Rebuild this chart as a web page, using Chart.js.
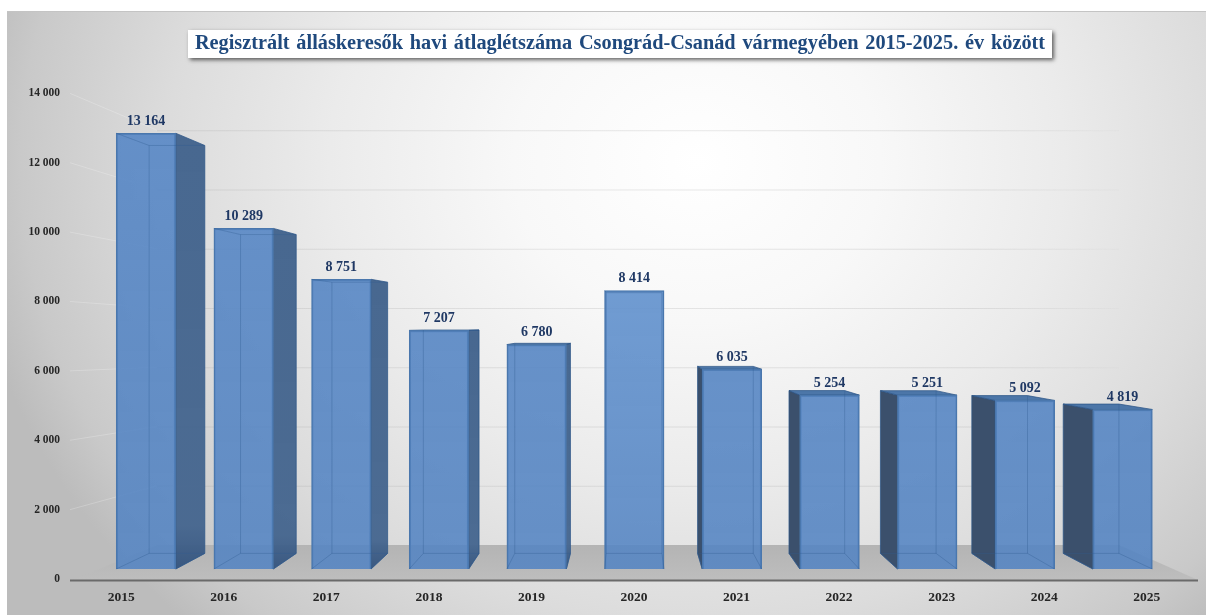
<!DOCTYPE html>
<html lang="hu">
<head>
<meta charset="utf-8">
<title>Regisztrált álláskeresők</title>
<style>
html,body{margin:0;padding:0;background:#fff;width:1206px;height:615px;overflow:hidden}
#bg{position:absolute;left:7px;top:11px;width:1199px;height:604px;border-top:1px solid #c4c4c4;box-sizing:border-box;
background:radial-gradient(ellipse 735px 640px at 690px 150px,#ffffff 0%,#f8f8f8 25%,#ebebeb 50%,#dcdcdc 72%,#c9c9c9 92%,#bcbcbc 100%)}
canvas{position:absolute;left:0;top:0}
</style>
<script src="https://cdn.jsdelivr.net/npm/chart.js@4/dist/chart.umd.js"></script>
</head>
<body>
<div id="bg"></div>
<canvas id="c" width="1206" height="615"></canvas>
<script>
const categories = ['2015','2016','2017','2018','2019','2020','2021','2022','2023','2024','2025'];
const jobseekers = [13164,10289,8751,7207,6780,8414,6035,5254,5251,5092,4819];
const yTicks = [0,2000,4000,6000,8000,10000,12000,14000];
const chartTitle = 'Regisztrált álláskeresők havi átlaglétszáma Csongrád-Csanád vármegyében 2015-2025. év között';

const fmt = v => String(v).replace(/\B(?=(\d{3})+$)/g,' ');
const SERIF = '"Liberation Serif","Times New Roman",serif';
// perspective of the 3D look
const VP = {x:630,y:325}, DEPTH = 0.064;
const back = (x,y)=>[x+(VP.x-x)*DEPTH, y+(VP.y-y)*DEPTH];
const poly = (ctx,pts,fill)=>{ctx.beginPath();pts.forEach((p,i)=>i?ctx.lineTo(p[0],p[1]):ctx.moveTo(p[0],p[1]));ctx.closePath();if(fill){ctx.fillStyle=fill;ctx.fill();}};

const scene = {
  id:'scene',
  afterLayout(chart){
    const tb=chart.titleBlock;
    tb.left += 21; tb.right += 21;
    if(!tb._patched){
      const d=tb.draw;
      tb.draw=function(){const c=this.ctx;c.save();c.wordSpacing='1.75px';d.call(this);c.restore();};
      tb._patched=true;
    }
  },
  beforeDraw(chart){
    const {ctx}=chart, cx=620, cy=44, w=864, h=28;
    ctx.save();
    ctx.shadowColor='rgba(0,0,0,.6)';ctx.shadowBlur=4;ctx.shadowOffsetX=2;ctx.shadowOffsetY=2;
    ctx.fillStyle='#fff';ctx.fillRect(cx-w/2,cy-h/2,w,h);
    ctx.restore();
  },
  beforeDatasetsDraw(chart){
    const {ctx,chartArea:a,scales:s}=chart;
    const yF=s.y.getPixelForValue(0), yB=s.yWall.getPixelForValue(0);
    const xBL=a.left+87, xBR=a.right-79;
    ctx.save();
    // wall and side gridlines
    yTicks.slice(1).forEach(v=>{
      const py=s.y.getPixelForValue(v), wy=s.yWall.getPixelForValue(v);
      ctx.strokeStyle='rgba(255,255,255,.22)';ctx.lineWidth=1;
      ctx.beginPath();ctx.moveTo(a.left,py);ctx.lineTo(xBL,wy);ctx.stroke();
      const g=ctx.createLinearGradient(xBL,0,xBR,0);
      g.addColorStop(0,'rgba(150,150,150,.2)');g.addColorStop(.85,'rgba(150,150,150,.22)');g.addColorStop(1,'rgba(150,150,150,.04)');
      ctx.strokeStyle=g;
      ctx.beginPath();ctx.moveTo(xBL,wy+.5);ctx.lineTo(xBR,wy+.5);ctx.stroke();
    });
    // floor
    const fg=ctx.createLinearGradient(0,yB,0,yF);
    fg.addColorStop(0,'#b4b4b4');fg.addColorStop(1,'#bdbdbd');
    poly(ctx,[[a.left+3,yF+1],[a.right,yF+1],[xBR,yB],[xBL,yB]],fg);
    // front edge of the floor (axis line)
    ctx.strokeStyle='#6a6a6a';ctx.lineWidth=2;
    ctx.beginPath();ctx.moveTo(a.left,yF+1.5);ctx.lineTo(a.right,yF+1.5);ctx.stroke();
    // back and side faces
    chart.getDatasetMeta(0).data.forEach(b=>{
      const l=b.x-b.width/2,r=b.x+b.width/2,t=b.y,bt=b.base;
      const BLt=back(l,t),BRt=back(r,t),BLb=back(l,bt),BRb=back(r,bt);
      ctx.strokeStyle='rgba(45,85,135,.75)';ctx.lineWidth=1;
      if(BRt[0]>r){
        const g=ctx.createLinearGradient(0,t,0,bt);g.addColorStop(0,'rgba(72,104,144,1)');g.addColorStop(.9,'rgba(72,104,144,.98)');g.addColorStop(1,'rgba(58,88,128,1)');
        poly(ctx,[[r,t],BRt,BRb,[r,bt]],g);ctx.stroke();
      }
      if(BLt[0]<l){
        poly(ctx,[[l,t],BLt,BLb,[l,bt]],'#3b506c');ctx.stroke();
      }
      if(BLt[1]<t){
        poly(ctx,[[l,t],BLt,BRt,[r,t]],'#4c76a8');ctx.stroke();
      }
    });
    ctx.restore();
  },
  afterDatasetsDraw(chart){
    const {ctx}=chart;
    ctx.save();
    chart.getDatasetMeta(0).data.forEach((b,i)=>{
      const l=b.x-b.width/2,r=b.x+b.width/2,t=b.y,bt=b.base;
      const BLt=back(l,t),BRt=back(r,t),BLb=back(l,bt),BRb=back(r,bt);
      // inner edges seen through the translucent front
      ctx.strokeStyle='rgba(48,90,145,.34)';ctx.lineWidth=1;
      ctx.beginPath();
      if(BLt[0]>l){ctx.moveTo(BLt[0],BLt[1]);ctx.lineTo(BLb[0],BLb[1]);}
      if(BRt[0]<r){ctx.moveTo(BRt[0],BRt[1]);ctx.lineTo(BRb[0],BRb[1]);}
      ctx.moveTo(BLb[0],BLb[1]);ctx.lineTo(BRb[0],BRb[1]);
      ctx.moveTo(l,bt);ctx.lineTo(BLb[0],BLb[1]);
      ctx.moveTo(r,bt);ctx.lineTo(BRb[0],BRb[1]);
      if(BLt[1]>t){
        ctx.moveTo(BLt[0],BLt[1]);ctx.lineTo(BRt[0],BRt[1]);
        ctx.moveTo(l,t);ctx.lineTo(BLt[0],BLt[1]);
      }
      ctx.stroke();
      // value label
      ctx.fillStyle='#1f3864';ctx.font='bold 14px '+SERIF;ctx.textAlign='center';ctx.textBaseline='middle';
      ctx.fillText(fmt(jobseekers[i]),b.x,t-12);
    });
    ctx.restore();
  }
};

const barColor = c => {
  const {chart,dataIndex}=c, a=chart.chartArea;
  if(!a) return '#6590c6';
  const el=chart.getDatasetMeta(0).data[dataIndex];
  const top=el&&el.y!=null?el.y:a.top, base=el&&el.base!=null?el.base:a.bottom;
  const g=chart.ctx.createLinearGradient(0,top,0,base);
  const light=categories[dataIndex]==='2020';
  g.addColorStop(0,light?'rgba(112,158,214,.96)':'rgba(92,138,198,.94)');
  g.addColorStop(1,'rgba(84,132,194,.88)');
  return g;
};

new Chart(document.getElementById('c'),{
  type:'bar',
  plugins:[scene],
  data:{
    labels:categories,
    datasets:[{
      label:'Álláskeresők',
      data:jobseekers.map((v,i)=>({x:i,y:v})),
      xAxisID:'xBar',yAxisID:'yBar',
      barThickness:59.5,
      backgroundColor:barColor,
      borderColor:'#4a77ad',borderWidth:1.5
    }]
  },
  options:{
    responsive:false,animation:false,
    layout:{padding:{left:0,right:8,top:0,bottom:0}},
    plugins:{
      legend:{display:false},tooltip:{enabled:false},
      title:{display:true,text:chartTitle,color:'#1f497d',
        font:{family:SERIF,size:20.3,weight:'bold',lineHeight:1.2},
        padding:{top:32,bottom:37}}
    },
    scales:{
      x:{type:'category',position:'bottom',offset:true,
        afterFit:s=>{s.height=36;},
        grid:{display:false,drawTicks:false},
        border:{display:false},
        ticks:{padding:10,maxRotation:0,autoSkip:false,color:'#262626',font:{family:SERIF,size:13.5,weight:'bold'}}},
      xBar:{type:'linear',display:false,offset:false,min:-0.778,max:10.772},
      y:{type:'linear',position:'left',min:0,max:14000,
        afterFit:s=>{s.width=70;},
        afterBuildTicks:s=>{s.ticks=yTicks.map(v=>({value:v}));},
        grid:{display:false,drawTicks:false},
        border:{display:false},
        ticks:{padding:10,color:'#262626',font:{family:SERIF,size:11.5,weight:'bold'},callback:v=>fmt(v)}},
      yBar:{type:'linear',display:false,min:-302,max:14368},
      yWall:{type:'linear',display:false,min:-1147,max:15245}
    }
  }
});
</script>
</body>
</html>
